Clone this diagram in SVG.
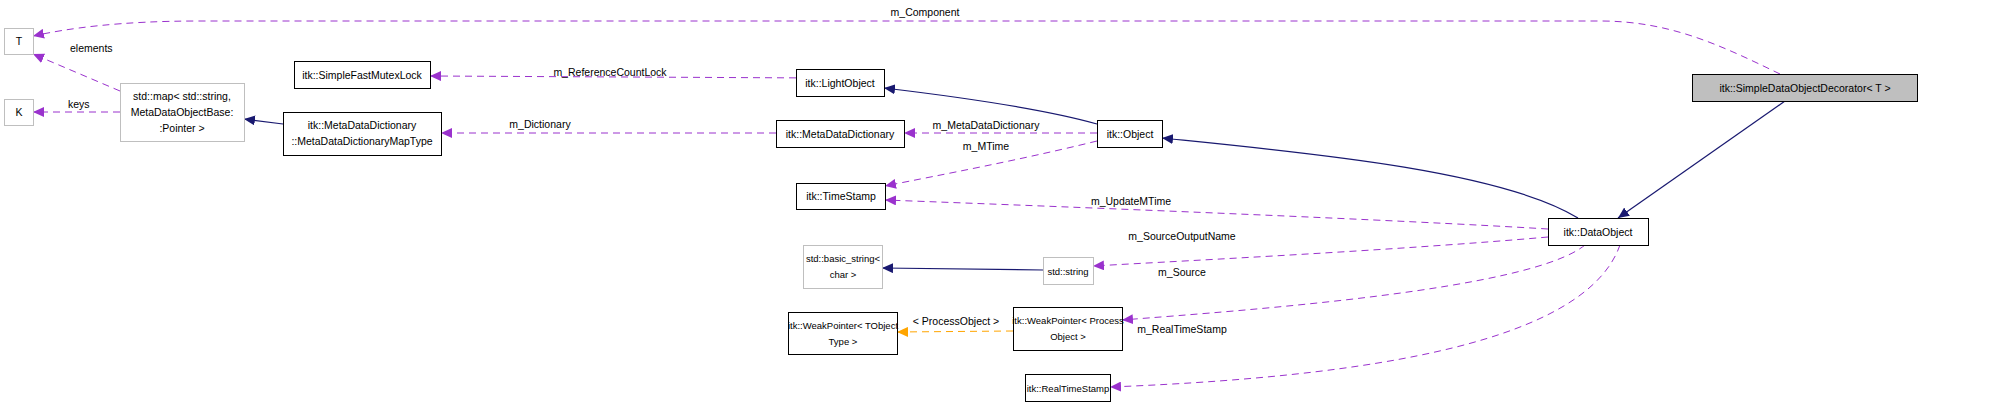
<svg xmlns="http://www.w3.org/2000/svg" width="2011" height="407" viewBox="0 0 2011 407">
<style>
text{font-family:"Liberation Sans",Arial,sans-serif;font-size:10.5px;fill:#000}
text.s{font-size:9.5px}
.n{fill:#fff;stroke:#000;stroke-width:1}
.g{fill:#fff;stroke:#bfbfbf;stroke-width:1}
.c{text-anchor:middle}
.inh{fill:none;stroke:#191970;stroke-width:1.2}
.use{fill:none;stroke:#9a32cd;stroke-width:1;stroke-dasharray:7,5}
.tpl{fill:none;stroke:#ffa500;stroke-width:1;stroke-dasharray:7,5}
</style>
<defs>
<marker id="ai" markerWidth="12" markerHeight="10" refX="11" refY="5" orient="auto" markerUnits="userSpaceOnUse"><path d="M0,0 L11,5 L0,10 z" fill="#191970"/></marker>
<marker id="au" markerWidth="12" markerHeight="10" refX="11" refY="5" orient="auto" markerUnits="userSpaceOnUse"><path d="M0,0 L11,5 L0,10 z" fill="#9a32cd"/></marker>
<marker id="at" markerWidth="12" markerHeight="10" refX="11" refY="5" orient="auto" markerUnits="userSpaceOnUse"><path d="M0,0 L11,5 L0,10 z" fill="#ffa500"/></marker>
</defs>
<g id="connectors">
<path class="use" d="M1780,74 C1720,45 1670,21 1600,21 L200,21 C120,21 70,28 33,36" marker-end="url(#au)"/>
<text class="c" x="925" y="16">m_Component</text>
<path class="use" d="M120,91 L33,54" marker-end="url(#au)"/>
<text x="70" y="52">elements</text>
<path class="use" d="M120,112 L33,112" marker-end="url(#au)"/>
<text x="68" y="108">keys</text>
<path class="inh" d="M283,124 L244,119" marker-end="url(#ai)"/>
<path class="use" d="M820,78 L430,76" marker-end="url(#au)"/>
<text class="c" x="610" y="76">m_ReferenceCountLock</text>
<path class="use" d="M776,133 L441,133" marker-end="url(#au)"/>
<text class="c" x="540" y="128">m_Dictionary</text>
<path class="inh" d="M1097,124 C1040,108 960,97 884,88" marker-end="url(#ai)"/>
<path class="use" d="M1097,133 L904,133" marker-end="url(#au)"/>
<text class="c" x="986" y="129">m_MetaDataDictionary</text>
<path class="use" d="M1097,141 C1020,160 940,175 885,186" marker-end="url(#au)"/>
<text class="c" x="986" y="150">m_MTime</text>
<path class="inh" d="M1578,218 C1500,170 1300,152 1162,138" marker-end="url(#ai)"/>
<path class="inh" d="M1785,101 L1618,218" marker-end="url(#ai)"/>
<path class="use" d="M1548,229 C1400,220 1100,208 885,200" marker-end="url(#au)"/>
<text class="c" x="1131" y="205">m_UpdateMTime</text>
<path class="use" d="M1548,237 C1400,250 1200,260 1093,266" marker-end="url(#au)"/>
<text class="c" x="1182" y="240">m_SourceOutputName</text>
<path class="inh" d="M1043,270 L882,268" marker-end="url(#ai)"/>
<path class="use" d="M1585,245 C1530,290 1250,310 1122,320" marker-end="url(#au)"/>
<text class="c" x="1182" y="276">m_Source</text>
<path class="use" d="M1620,245 C1590,330 1420,375 1110,387" marker-end="url(#au)"/>
<text class="c" x="1182" y="333">m_RealTimeStamp</text>
<path class="tpl" d="M1013,331 L897,332" marker-end="url(#at)"/>
<text class="c" x="956" y="325">&lt; ProcessObject &gt;</text>
</g>
<g id="T"><rect class="g" x="4.5" y="28.5" width="29" height="26"/><text class="c" x="19" y="45">T</text></g>
<g id="K"><rect class="g" x="4.5" y="99.5" width="29" height="26"/><text class="c" x="19" y="116">K</text></g>
<g id="map"><rect class="g" x="120.5" y="83.5" width="124" height="58"/><text class="c" x="182" y="100">std::map&lt; std::string,</text><text class="c" x="182" y="116">MetaDataObjectBase:</text><text class="c" x="182" y="132">:Pointer &gt;</text></g>
<g id="mutex"><rect class="n" x="294.5" y="61.5" width="136" height="27"/><text class="c" x="362" y="79">itk::SimpleFastMutexLock</text></g>
<g id="maptype"><rect class="n" x="283.5" y="112.5" width="158" height="43"/><text class="c" x="362" y="129">itk::MetaDataDictionary</text><text class="c" x="362" y="145">::MetaDataDictionaryMapType</text></g>
<g id="light"><rect class="n" x="796.5" y="69.5" width="88" height="27"/><text class="c" x="840" y="87">itk::LightObject</text></g>
<g id="mdd"><rect class="n" x="776.5" y="120.5" width="128" height="27"/><text class="c" x="840" y="138">itk::MetaDataDictionary</text></g>
<g id="object"><rect class="n" x="1097.5" y="120.5" width="65" height="27"/><text class="c" x="1130" y="138">itk::Object</text></g>
<g id="timestamp"><rect class="n" x="796.5" y="183.5" width="89" height="26"/><text class="c" x="841" y="200">itk::TimeStamp</text></g>
<g id="decorator"><rect x="1692.5" y="74.5" width="225" height="27" fill="#bfbfbf" stroke="#000"/><text class="c" x="1805" y="92">itk::SimpleDataObjectDecorator&lt; T &gt;</text></g>
<g id="dataobject"><rect class="n" x="1548.5" y="218.5" width="100" height="27"/><text class="c" x="1598" y="236">itk::DataObject</text></g>
<g id="basicstring"><rect class="g" x="803.5" y="245.5" width="79" height="43"/><text class="c s" x="843" y="262">std::basic_string&lt;</text><text class="c s" x="843" y="278">char &gt;</text></g>
<g id="string"><rect class="g" x="1043.5" y="257.5" width="50" height="27"/><text class="c s" x="1068" y="275">std::string</text></g>
<g id="wpT"><rect class="n" x="788.5" y="312.5" width="109" height="42"/><text class="c s" x="843" y="329">itk::WeakPointer&lt; TObject</text><text class="c s" x="843" y="345">Type &gt;</text></g>
<g id="wpP"><rect class="n" x="1013.5" y="307.5" width="109" height="43"/><text class="c s" x="1068" y="324">itk::WeakPointer&lt; Process</text><text class="c s" x="1068" y="340">Object &gt;</text></g>
<g id="rts"><rect class="n" x="1025.5" y="374.5" width="85" height="27"/><text class="c s" x="1068" y="392">itk::RealTimeStamp</text></g>
</svg>
